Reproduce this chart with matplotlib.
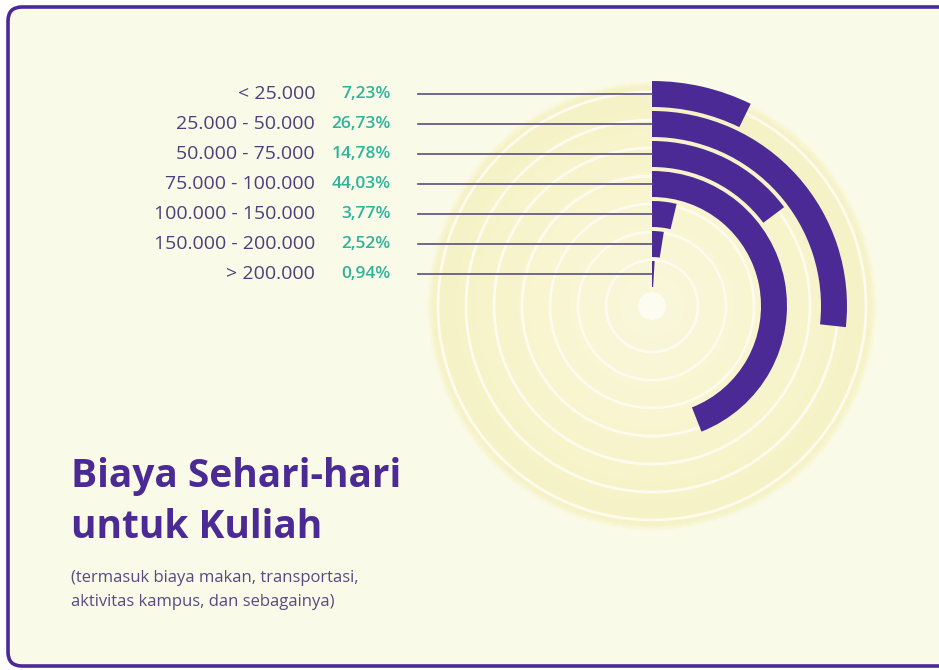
import matplotlib
matplotlib.use("Agg")
import matplotlib.pyplot as plt
import numpy as np
from matplotlib.patches import FancyBboxPatch
from matplotlib.colors import LinearSegmentedColormap

# data
categories = ["< 25.000", "25.000 - 50.000", "50.000 - 75.000", "75.000 - 100.000",
              "100.000 - 150.000", "150.000 - 200.000", "> 200.000"]
percent = [7.23, 26.73, 14.78, 44.03, 3.77, 2.52, 0.94]

title_lines = ["Biaya Sehari-hari", "untuk Kuliah"]
subtitle_lines = ["(termasuk biaya makan, transportasi,", "aktivitas kampus, dan sebagainya)"]

W, H = 939, 670
purple = "#4b2a95"
label_col = "#4e3f7c"
pct_col = "#2fb39a"
bg = "#fafae9"

plt.rcParams['font.family'] = ['Open Sans', 'DejaVu Sans']

fig = plt.figure(figsize=(W / 100, H / 100), dpi=100)
fig.patch.set_facecolor("white")

# background axes with the rounded frame
bax = fig.add_axes([0, 0, 1, 1])
bax.set_xlim(0, W)
bax.set_ylim(H, 0)
bax.axis("off")
frame = FancyBboxPatch((8, 7), W + 40, H - 11, boxstyle="round,pad=0,rounding_size=14",
                       fc=bg, ec=purple, lw=2.6)
bax.add_patch(frame)

# radial layout
cx, cy = 652, 306
R = 228
step = 30
thick = 26
n = len(categories)
r_mid = [212 - step * i for i in range(n)]

pax = fig.add_axes([(cx - R) / W, (H - cy - R) / H, 2 * R / W, 2 * R / H], projection="polar")
pax.set_theta_zero_location("N")
pax.set_theta_direction(-1)
pax.set_ylim(0, R)
pax.axis("off")
pax.patch.set_alpha(0)

# soft yellow disc behind the bars
cmap = LinearSegmentedColormap.from_list("disc", ["#fdfcf0", "#f9f7dc", "#f8f5d0", "#f6f2c6", bg])
th = np.linspace(0, 2 * np.pi, 181)
rr = np.linspace(0, 228, 115)
T, RR = np.meshgrid(th, rr)
vals = np.where(RR < 14, 0, 0.25 + 0.5 * (RR / 214))
vals = np.where(RR > 218, 0.75 + 0.25 * (RR - 218) / 7, vals)
pax.pcolormesh(T, RR, np.clip(vals, 0, 1)[:-1, :-1], cmap=cmap, vmin=0, vmax=1,
               shading="flat", zorder=1, rasterized=True)
for rs in range(46, 215, 28):
    pax.plot(th, np.full_like(th, rs), color="#fcfbee", lw=2, zorder=2)

# data bars
for i, p in enumerate(percent):
    pax.bar(0, thick, width=p / 100 * 2 * np.pi, bottom=r_mid[i] - thick / 2,
            color=purple, align="edge", zorder=3, lw=0)

# overlay axes for leader lines and text
ax = fig.add_axes([0, 0, 1, 1])
ax.set_xlim(0, W)
ax.set_ylim(H, 0)
ax.axis("off")
ax.patch.set_alpha(0)

for i, (c, p) in enumerate(zip(categories, percent)):
    y = cy - r_mid[i]
    ax.plot([418, cx], [y, y], color="#5a4f80", lw=1.2)
    ax.text(315, y, c, ha="right", va="center", fontsize=14, color=label_col)
    ax.text(391, y, f"{p:.2f}".replace(".", ",") + "%", ha="right", va="center",
            fontsize=12.5, color=pct_col, fontweight="semibold")

for k, t in enumerate(title_lines):
    ax.text(71, 487 + 51 * k, t, ha="left", va="baseline", fontsize=28,
            fontweight="bold", color=purple)
for k, t in enumerate(subtitle_lines):
    ax.text(71, 582 + 24 * k, t, ha="left", va="baseline", fontsize=12, color="#5a4a80")

fig.savefig("out.png", dpi=100, facecolor=fig.get_facecolor())
